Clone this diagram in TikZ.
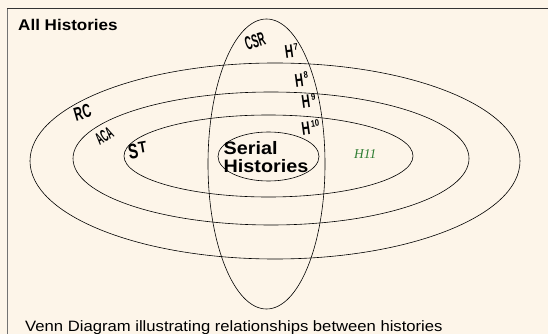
\documentclass[tikz,border=0pt]{standalone}
\usepackage{fontspec}
\setmainfont{Liberation Sans}
\newfontfamily\serifit{Liberation Serif}
\definecolor{bgcream}{RGB}{253,245,233}
\definecolor{hgreen}{RGB}{46,125,50}
\begin{document}
\begin{tikzpicture}[x=1pt,y=-1pt,
  venn/.style={draw=black, line width=0.6pt},
  hand/.style={font=\bfseries\fontsize{18.6}{18.6}\selectfont, inner sep=0pt},
  hH/.style={hand, rotate=8, xscale=0.62},
  sup/.style={font=\bfseries\fontsize{9.5}{9.5}\selectfont, rotate=8, xscale=0.8, inner sep=0pt},
  title/.style={font=\bfseries\fontsize{15.5}{15.5}\selectfont, xscale=1.1, inner sep=0pt, anchor=base west},
  caption/.style={font=\fontsize{15}{15}\selectfont, xscale=1.11, inner sep=0pt, anchor=base west}]
\useasboundingbox (0,0) rectangle (548,334);
\fill[bgcream] (0,0) rectangle (548,334);
\draw[black!55, line width=0.8pt] (7,334) -- (7,8.5);
\draw[black!80, line width=0.8pt] (7,8.5) -- (548,8.5);
% nested ellipses
\draw[venn] (275,161) ellipse [x radius=245, y radius=98];
\draw[venn] (271,158.5) ellipse [x radius=198, y radius=66.5];
\draw[venn] (268.5,156) ellipse [x radius=144.5, y radius=41];
\draw[venn] (268.5,156.5) ellipse [x radius=50.5, y radius=24.5];
% vertical CSR ellipse
\draw[venn] (266.5,164) ellipse [x radius=58.5, y radius=145];
% labels
\node[title] (all) at (18,30.5) {All Histories};
\node[font=\bfseries\fontsize{19}{19}\selectfont, inner sep=0pt, rotate=18, xscale=0.5] (csr) at (255,41) {CSR};
\node[hH] (h7) at (289.2,51.7) {H};
\node[sup] (h7s) at (295.8,46.7) {7};
\node[hH] (h8) at (299.2,80.5) {H};
\node[sup] (h8s) at (305.8,75) {8};
\node[hH] (h9) at (305.8,101.7) {H};
\node[sup] (h9s) at (313.3,96.7) {9};
\node[hH] (h10) at (305.8,128.3) {H};
\node[sup] (h10s) at (315,123.3) {10};
\node[font=\bfseries\fontsize{19}{19}\selectfont, inner sep=0pt, rotate=16, xscale=0.62] (rc) at (82.5,112.5) {RC};
\node[font=\bfseries\fontsize{17}{17}\selectfont, inner sep=0pt, rotate=32, xscale=0.48] (aca) at (104.2,135.8) {ACA};
\node[font=\bfseries\fontsize{21}{21}\selectfont, inner sep=0pt, rotate=10, xscale=0.7] (st) at (133.3,152) {S};
\node[font=\bfseries\fontsize{16}{16}\selectfont, inner sep=0pt, rotate=10, xscale=0.85] (stt) at (142.5,147.5) {T};
\node[font=\bfseries\fontsize{18}{18}\selectfont, xscale=1.1, align=left, inner sep=0pt] (serial) at (266,157) {Serial\\Histories};
\node[font=\serifit\itshape\fontsize{13.5}{13.5}\selectfont, text=hgreen, inner sep=0pt, anchor=base west] (h11) at (354,158) {H11};
\node[caption] (cap) at (25,331) {Venn Diagram illustrating relationships between histories};
\end{tikzpicture}
\end{document}
